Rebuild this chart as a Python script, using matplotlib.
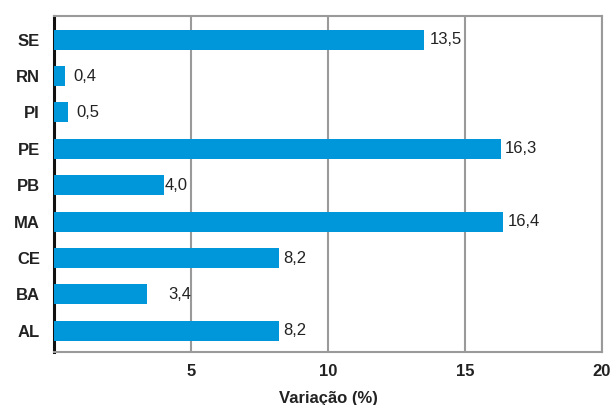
import matplotlib
matplotlib.use('Agg')
import matplotlib.pyplot as plt

plt.rcParams['font.family'] = ['Liberation Sans', 'DejaVu Sans']

# Data (top to bottom in the chart)
states = ['SE', 'RN', 'PI', 'PE', 'PB', 'MA', 'CE', 'BA', 'AL']
variation = [13.5, 0.4, 0.5, 16.3, 4.0, 16.4, 8.2, 3.4, 8.2]
value_labels = ['13,5', '0,4', '0,5', '16,3', '4,0', '16,4', '8,2', '3,4', '8,2']
xticks = [5, 10, 15, 20]
xtick_labels = ['5', '10', '15', '20']

# label offsets in points, as in the original layout
label_pad = [4, 6, 6, 3, 1, 3, 3, 15, 3]

bar_color = '#0096da'
grid_color = '#9a9a9a'

fig = plt.figure(figsize=(6.12, 4.05), dpi=100)
ax = fig.add_axes([0.0882, 0.1309, 0.8955, 0.8296])

ypos = list(range(len(states) - 1, -1, -1))
ax.barh(ypos, variation, height=0.55, color=bar_color, zorder=3)

for y, v, lab, pad in zip(ypos, variation, value_labels, label_pad):
    ax.annotate(lab, (v, y), xytext=(pad, 0), textcoords='offset points',
                ha='left', va='center', fontsize=12, color='#222222', zorder=4)

ax.set_xlim(0, 20)
ax.set_ylim(-0.58, 8.65)
ax.set_yticks(ypos)
ax.set_yticklabels(states, fontsize=12, fontweight='bold', color='#222222')
ax.set_xticks(xticks)
ax.set_xticklabels(xtick_labels, fontsize=12, fontweight='bold', color='#222222')
ax.tick_params(axis='both', length=0)
ax.tick_params(axis='y', pad=10)
ax.tick_params(axis='x', pad=9)

ax.grid(axis='x', color=grid_color, linewidth=1.5, zorder=1)
for side in ['top', 'right', 'bottom']:
    ax.spines[side].set_color(grid_color)
    ax.spines[side].set_linewidth(1.5)
ax.spines['left'].set_color('#111111')
ax.spines['left'].set_linewidth(2.2)

ax.set_xlabel('Variação (%)', fontsize=12, fontweight='bold', color='#222222', labelpad=8)

fig.savefig('out.png', dpi=100)
